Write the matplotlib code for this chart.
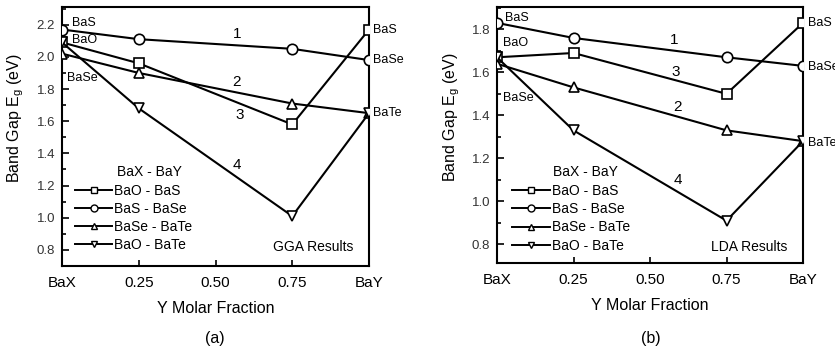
import numpy as np
import matplotlib
matplotlib.use("Agg")
import matplotlib.pyplot as plt
from matplotlib.ticker import MultipleLocator
from matplotlib.lines import Line2D

plt.rcParams['font.family'] = ['Liberation Sans', 'DejaVu Sans']

# x positions (Y molar fraction) and tick labels
x = [0.0, 0.25, 0.75, 1.0]
xtick_pos = [0.0, 0.25, 0.50, 0.75, 1.0]
xtick_labels = ['BaX', '0.25', '0.50', '0.75', 'BaY']

series_names = ['BaO - BaS', 'BaS - BaSe', 'BaSe - BaTe', 'BaO - BaTe']
series_markers = ['s', 'o', '^', 'v']

# GGA band gaps (eV)
gga_bao_bas = [2.09, 1.96, 1.58, 2.17]
gga_bas_base = [2.17, 2.11, 2.05, 1.98]
gga_base_bate = [2.02, 1.90, 1.71, 1.65]
gga_bao_bate = [2.09, 1.68, 1.01, 1.65]

# LDA band gaps (eV)
lda_bao_bas = [1.67, 1.69, 1.50, 1.83]
lda_bas_base = [1.83, 1.76, 1.67, 1.63]
lda_base_bate = [1.64, 1.53, 1.33, 1.28]
lda_bao_bate = [1.67, 1.33, 0.91, 1.28]

# curve numbers: (label, x, y)
gga_numbers = [('1', 0.57, 2.14), ('2', 0.57, 1.845), ('3', 0.58, 1.64), ('4', 0.57, 1.33)]
lda_numbers = [('1', 0.58, 1.75), ('3', 0.585, 1.603), ('2', 0.59, 1.44), ('4', 0.59, 1.10)]

# end labels: (text, x, y)
gga_end_labels = [('BaS', 0.033, 2.21), ('BaO', 0.033, 2.107), ('BaSe', 0.016, 1.87),
                  ('BaS', 1.012, 2.17), ('BaSe', 1.012, 1.98), ('BaTe', 1.012, 1.65)]
lda_end_labels = [('BaS', 0.027, 1.851), ('BaO', 0.018, 1.735), ('BaSe', 0.018, 1.479),
                  ('BaS', 1.017, 1.828), ('BaSe', 1.017, 1.626), ('BaTe', 1.017, 1.272)]

fig = plt.figure(figsize=(8.35, 3.51), dpi=100)
ax1 = fig.add_axes([62/835, 85/351, 307/835, 259/351])
ax2 = fig.add_axes([497/835, 88/351, 306/835, 256/351])


def draw_panel(ax, data, ylim, numbers, end_labels, method, leg_xy, title_xy, method_xy,
               ylabel_xy):
    for vals, mk in zip(data, series_markers):
        ax.plot(x, vals, color='black', lw=1.5, marker=mk, ms=7.5,
                mfc='white', mec='black', mew=1.2, zorder=3)
    ax.set_xlim(0, 1)
    ax.set_ylim(*ylim)
    ax.set_xticks(xtick_pos)
    ax.set_xticklabels(xtick_labels, fontsize=11)
    ax.yaxis.set_major_locator(MultipleLocator(0.2))
    ax.yaxis.set_minor_locator(MultipleLocator(0.1))
    ax.yaxis.set_major_formatter(matplotlib.ticker.FormatStrFormatter('%.1f'))
    ax.tick_params(axis='x', direction='in', length=4, width=1.2, pad=7, top=False)
    ax.tick_params(axis='y', which='both', direction='in', width=1.2, right=False,
                   labelsize=9.5, labelcolor='#333333', pad=5)
    ax.tick_params(axis='y', which='major', length=5)
    ax.tick_params(axis='y', which='minor', length=3)
    for s in ax.spines.values():
        s.set_linewidth(1.5)
    ax.set_xlabel('Y Molar Fraction', fontsize=11.5, labelpad=8)
    ax.set_ylabel('Band Gap E$_\\mathregular{g}$ (eV)', fontsize=11.5)
    ax.yaxis.set_label_coords(*ylabel_xy)
    for t, nx, ny in numbers:
        ax.text(nx, ny, t, fontsize=11, ha='center', va='center')
    for t, lx, ly in end_labels:
        ax.text(lx, ly, t, fontsize=9, ha='left', va='center', clip_on=False)
    handles = [Line2D([], [], color='black', lw=1.4, marker=mk, ms=5, mfc='white',
                      mec='black', mew=1.0) for mk in series_markers]
    ax.legend(handles, series_names, loc='upper left', bbox_to_anchor=leg_xy,
              frameon=False, fontsize=10, handlelength=2.7, handletextpad=0.15,
              labelspacing=0.3, borderpad=0, borderaxespad=0)
    ax.text(title_xy[0], title_xy[1], 'BaX - BaY', transform=ax.transAxes,
            fontsize=10, ha='left', va='center')
    ax.text(method_xy[0], method_xy[1], method, transform=ax.transAxes,
            fontsize=10, ha='center', va='center')


draw_panel(ax1, [gga_bao_bas, gga_bas_base, gga_base_bate, gga_bao_bate], (0.7, 2.31),
           gga_numbers, gga_end_labels, 'GGA Results', (0.042, 0.318), (0.179, 0.363),
           (0.818, 0.073), (-0.117, 0.571))
draw_panel(ax2, [lda_bao_bas, lda_bas_base, lda_base_bate, lda_bao_bate], (0.713, 1.904),
           lda_numbers, lda_end_labels, 'LDA Results', (0.05, 0.308), (0.183, 0.355),
           (0.825, 0.064), (-0.113, 0.570))

fig.text(215/835, 1 - 338/351, '(a)', fontsize=11.5, ha='center', va='center')
fig.text(651/835, 1 - 338/351, '(b)', fontsize=11.5, ha='center', va='center')

fig.savefig('out.png', dpi=100)
